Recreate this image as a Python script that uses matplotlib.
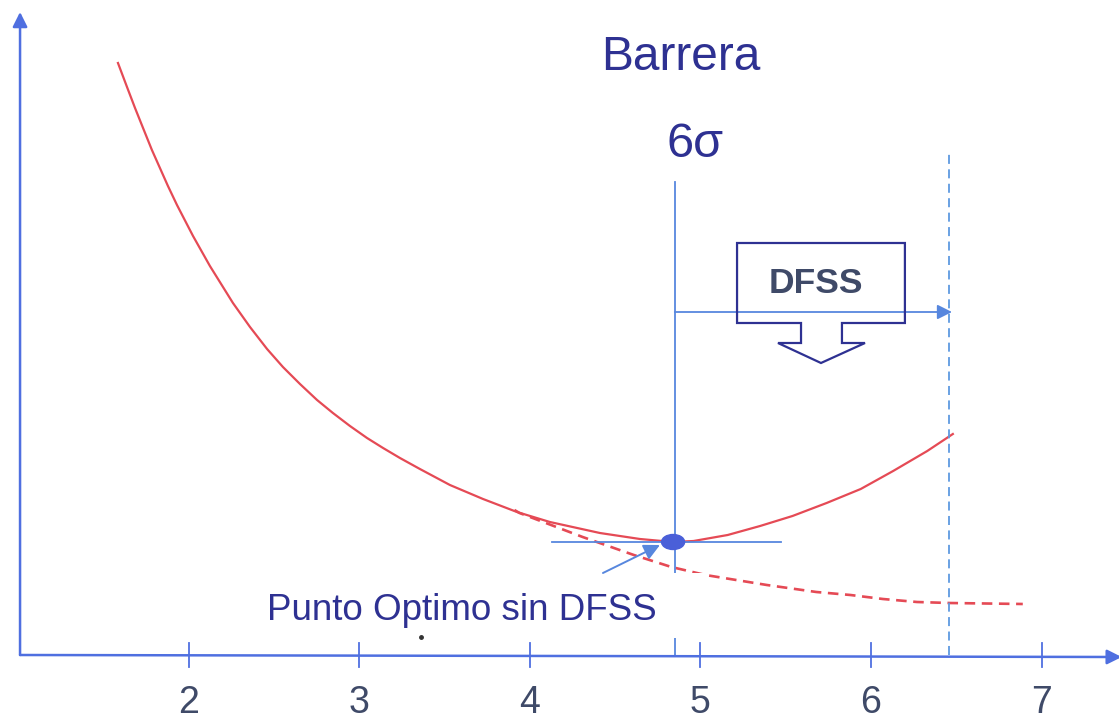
import matplotlib
matplotlib.use("Agg")
import matplotlib.pyplot as plt
from matplotlib.patches import Rectangle, Polygon, Ellipse

plt.rcParams['font.family'] = ['Liberation Sans', 'DejaVu Sans']

# Cost curve with the DFSS barrier (solid) and without it (dashed)
curve_x = [1.586, 1.639, 1.686, 1.733, 1.785, 1.832, 1.879, 1.932, 2.026,
           2.125, 2.260, 2.360, 2.460, 2.553, 2.653, 2.753, 2.846, 2.946,
           3.046, 3.140, 3.239, 3.356, 3.532, 3.726, 3.925, 4.118, 4.411,
           4.646, 4.839, 4.96, 5.16, 5.35, 5.54, 5.74, 5.94, 6.13, 6.33, 6.48]
curve_y = [5.92, 5.68, 5.47, 5.27, 5.05, 4.87, 4.69, 4.50, 4.19,
           3.89, 3.52, 3.28, 3.06, 2.88, 2.71, 2.55, 2.42, 2.29,
           2.17, 2.07, 1.97, 1.86, 1.70, 1.56, 1.43, 1.33, 1.22,
           1.16, 1.13, 1.14, 1.20, 1.29, 1.39, 1.52, 1.66, 1.84, 2.04, 2.21]

nodfss_x = [3.91, 3.94, 4.31, 4.61, 4.83, 5.03, 5.39, 5.68, 5.88, 6.07, 6.27,
            6.46, 6.89]
nodfss_y = [1.45, 1.42, 1.18, 1.00, 0.88, 0.80, 0.70, 0.63, 0.60, 0.56, 0.53,
            0.52, 0.51]

optimum_x = 4.85
optimum_y = 1.13
barrier_x = 6.46

tick_values = [2, 3, 4, 5, 6, 7]
tick_labels = ['2', '3', '4', '5', '6', '7']

RED = '#E54A55'
AXIS_BLUE = '#4F6FE0'
LINE_BLUE = '#5787DE'
DASH_BLUE = '#5E9AE0'
INDIGO = '#2E3192'
SLATE = '#3F4A68'

fig = plt.figure(figsize=(11.19, 7.19), dpi=100)
ax = fig.add_axes([0, 0, 1, 1])
ax.set_xlim(0.8945, 7.454)
ax.set_ylim(-0.64, 6.55)
ax.axis('off')

# axes with arrows
arrow_kw = dict(arrowstyle='-|>', color=AXIS_BLUE, lw=1.8,
                mutation_scale=22, shrinkA=0, shrinkB=0)
ax.annotate('', xy=(1.012, 6.43), xytext=(1.012, 0.0),
            arrowprops=arrow_kw, annotation_clip=False, zorder=3)
ax.annotate('', xy=(7.47, -0.02), xytext=(1.012, 0.0),
            arrowprops=arrow_kw, annotation_clip=False, zorder=3)
for tv, tl in zip(tick_values, tick_labels):
    ax.plot([tv, tv], [-0.12, 0.12], color=AXIS_BLUE, lw=1.3, zorder=3)
    ax.text(tv, -0.58, tl, ha='center', va='baseline', fontsize=27,
            color=SLATE)

# curves
ax.plot(curve_x, curve_y, color=RED, lw=1.6, zorder=2,
        solid_joinstyle='round')
ax.plot(nodfss_x, nodfss_y, color=RED, lw=1.9, ls=(0, (4, 2.5)), zorder=2)

# 6-sigma barrier line and optimum crosshair
ax.plot([optimum_x, optimum_x], [0.0, 4.73], color=LINE_BLUE, lw=1.3, zorder=2)
ax.plot([4.13, 5.47], [optimum_y, optimum_y], color=LINE_BLUE, lw=1.3, zorder=2)
ax.plot([barrier_x, barrier_x], [0.0, 5.05], color=DASH_BLUE, lw=1.3,
        ls=(0, (5, 3)), zorder=2)
ax.add_patch(Ellipse((optimum_x - 0.01, optimum_y), 0.135, 0.15,
                     color='#4A5FD8', zorder=4))

# DFSS move arrow
ax.annotate('', xy=(6.475, 3.43), xytext=(optimum_x, 3.43),
            arrowprops=dict(arrowstyle='-|>', color=LINE_BLUE, lw=1.3,
                            mutation_scale=22, shrinkA=0, shrinkB=0), zorder=3)

# DFSS callout with downward arrow
callout = [(5.215, 4.12), (6.199, 4.12), (6.199, 3.32), (5.830, 3.32),
           (5.830, 3.12), (5.965, 3.12), (5.707, 2.92), (5.455, 3.12),
           (5.590, 3.12), (5.590, 3.32), (5.215, 3.32)]
ax.add_patch(Polygon(callout, closed=True, fill=False, edgecolor=INDIGO,
                     lw=1.6, zorder=4))
ax.text(5.678, 3.62, 'DFSS', ha='center', va='baseline', fontsize=25.5,
        fontweight='bold', color=SLATE, zorder=5)

# titles
ax.text(4.886, 5.85, 'Barrera', ha='center', va='baseline', fontsize=34.5,
        color=INDIGO)
ax.text(4.968, 4.98, '6σ', ha='center', va='baseline', fontsize=35,
        color=INDIGO)

# label for the optimum without DFSS
ax.add_patch(Rectangle((2.39, 0.17), 5.03 - 2.39, 0.82 - 0.17,
                       facecolor='white', edgecolor='none', zorder=3))
ax.text(2.46, 0.35, 'Punto Optimo sin DFSS', ha='left', va='baseline',
        fontsize=26.5, color=INDIGO, zorder=5)
ax.annotate('', xy=(4.763, 1.10), xytext=(4.429, 0.82),
            arrowprops=dict(arrowstyle='-|>', color=LINE_BLUE, lw=1.4,
                            mutation_scale=24, shrinkA=0, shrinkB=0), zorder=5)
ax.plot([3.36], [0.18], marker='o', ms=2.5, color='#333333', zorder=5)

fig.savefig('out.png', dpi=100, facecolor='white')
